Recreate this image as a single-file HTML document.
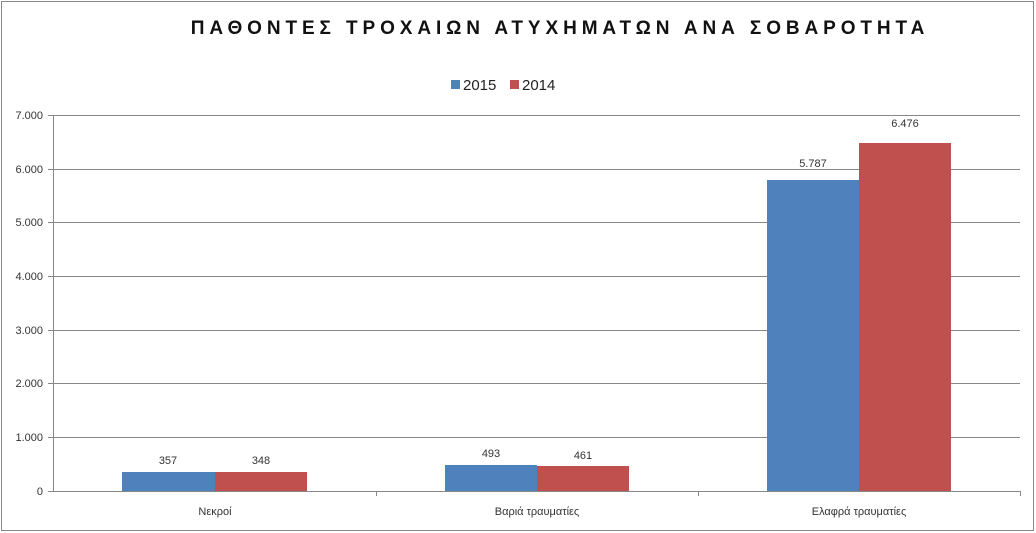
<!DOCTYPE html>
<html><head><meta charset="utf-8"><style>
html,body{margin:0;padding:0;background:#fff;}
svg{display:block;font-family:"Liberation Sans","DejaVu Sans",sans-serif;}
</style></head><body>
<svg width="1036" height="533" viewBox="0 0 1036 533">
<rect x="1.5" y="1.5" width="1032" height="529" fill="#fff" stroke="#888" stroke-width="1"/>
<text x="560" y="34" text-anchor="middle" font-size="19" font-weight="bold" letter-spacing="4.9" fill="#111">ΠΑΘΟΝΤΕΣ ΤΡΟΧΑΙΩΝ ΑΤΥΧΗΜΑΤΩΝ ΑΝΑ ΣΟΒΑΡΟΤΗΤΑ</text>
<rect x="451" y="80" width="9" height="9" fill="#4f81bd"/>
<text x="463" y="90" font-size="15" fill="#222">2015</text>
<rect x="510" y="80" width="9" height="9" fill="#c0504d"/>
<text x="522" y="90" font-size="15" fill="#222">2014</text>
<g stroke="#888" stroke-width="1">
<line x1="48" y1="115.5" x2="1020" y2="115.5"/>
<line x1="48" y1="169.5" x2="1020" y2="169.5"/>
<line x1="48" y1="222.5" x2="1020" y2="222.5"/>
<line x1="48" y1="276.5" x2="1020" y2="276.5"/>
<line x1="48" y1="330.5" x2="1020" y2="330.5"/>
<line x1="48" y1="383.5" x2="1020" y2="383.5"/>
<line x1="48" y1="437.5" x2="1020" y2="437.5"/>
<line x1="48" y1="491.5" x2="1020" y2="491.5"/>
<line x1="53.5" y1="115" x2="53.5" y2="491"/>
<line x1="376.5" y1="491" x2="376.5" y2="496"/>
<line x1="698.5" y1="491" x2="698.5" y2="496"/>
<line x1="1020.5" y1="491" x2="1020.5" y2="496"/>
</g>
<g font-size="11" fill="#333" text-anchor="end">
<text x="43" y="119">7.000</text>
<text x="43" y="173">6.000</text>
<text x="43" y="226">5.000</text>
<text x="43" y="280">4.000</text>
<text x="43" y="334">3.000</text>
<text x="43" y="387">2.000</text>
<text x="43" y="441">1.000</text>
<text x="43" y="495">0</text>
</g>
<g fill="#4f81bd">
<rect x="122" y="472" width="93" height="19"/>
<rect x="445" y="465" width="92" height="26"/>
<rect x="767" y="180" width="92" height="311"/>
</g>
<g fill="#c0504d">
<rect x="215" y="472" width="92" height="19"/>
<rect x="537" y="466" width="92" height="25"/>
<rect x="859" y="143" width="92" height="348"/>
</g>
<g font-size="11" fill="#333" text-anchor="middle">
<text x="168" y="464">357</text>
<text x="261" y="464">348</text>
<text x="491" y="457">493</text>
<text x="583" y="459">461</text>
<text x="813" y="167">5.787</text>
<text x="905" y="127">6.476</text>
<text x="215" y="515">Νεκροί</text>
<text x="537" y="515">Βαριά τραυματίες</text>
<text x="859" y="515">Ελαφρά τραυματίες</text>
</g>
</svg>
</body></html>
